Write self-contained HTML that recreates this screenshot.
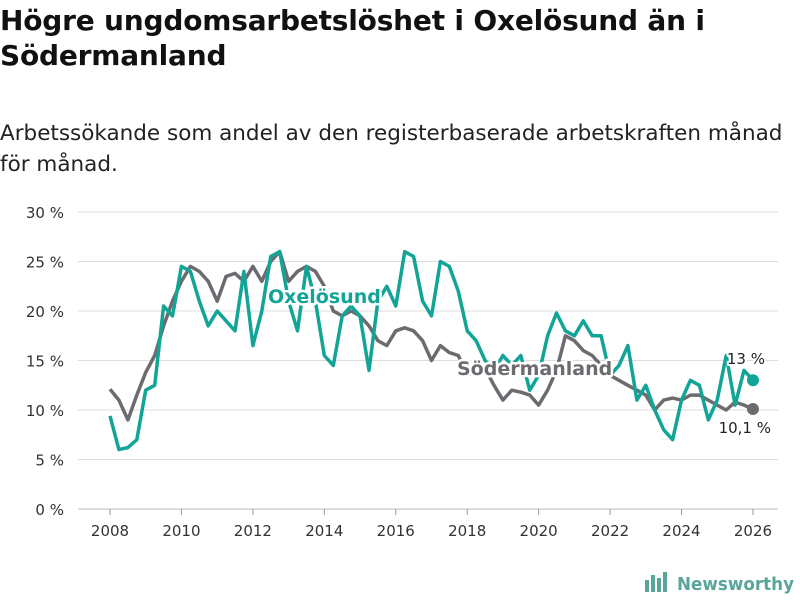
<!DOCTYPE html>
<html><head><meta charset="utf-8"><style>
body{margin:0;background:#fff;font-family:"Liberation Sans","DejaVu Sans",sans-serif;}
#wrap{position:relative;width:800px;height:600px;overflow:hidden}
h1{position:absolute;left:0;top:3px;margin:0;font-size:28px;line-height:35px;font-weight:bold;color:#111;font-family:"DejaVu Sans",sans-serif;letter-spacing:-0.2px}
.sub{position:absolute;left:0;top:118px;font-size:21.5px;line-height:31px;color:#222;font-family:"DejaVu Sans",sans-serif}
svg{position:absolute;left:0;top:0}
</style></head><body>
<div id="wrap">
<h1>Högre ungdomsarbetslöshet i Oxelösund än i<br>Södermanland</h1>
<div class="sub">Arbetssökande som andel av den registerbaserade arbetskraften månad<br>för månad.</div>
<svg id="chart" width="800" height="600"></svg>
</div>
<script>
const yTicks=[0,5,10,15,20,25,30];
const yTickLabels=["0 %","5 %","10 %","15 %","20 %","25 %","30 %"];
const xTicks=[2008,2010,2012,2014,2016,2018,2020,2022,2024,2026];
const startYear=2008;
const soder=[12.1,11,9,11.5,13.8,15.5,18.5,21,23,24.5,24,23,21,23.5,23.8,23,24.5,23,25,26,23,24,24.5,24,22.5,20,19.5,20,19.5,18.5,17,16.5,18,18.3,18,17,15,16.5,15.8,15.5,13.5,14,14.2,12.5,11,12,11.8,11.5,10.5,12,14,17.5,17,16,15.5,14.5,13.5,13,12.5,12,11.5,10,11,11.2,11,11.5,11.5,11,10.5,10,10.8,10.5,10.1];
const oxel=[9.4,6,6.2,7,12,12.5,20.5,19.5,24.5,24,21,18.5,20,19,18,24,16.5,20,25.5,26,21,18,24.5,21,15.5,14.5,19.5,20.5,19.5,14,21,22.5,20.5,26,25.5,21,19.5,25,24.5,22,18,17,15,14,15.5,14.5,15.5,12,13.5,17.5,19.8,18,17.5,19,17.5,17.5,13.5,14.5,16.5,11,12.5,10,8,7,11,13,12.5,9,11,15.5,10.5,14,13];
const ns="http://www.w3.org/2000/svg";
const svg=document.getElementById('chart');
const x=t=>110+(t-2008)*35.72;
const y=v=>509-v*9.9;
function mk(tag,attrs){const e=document.createElementNS(ns,tag);for(const k in attrs)e.setAttribute(k,attrs[k]);svg.appendChild(e);return e;}
yTicks.forEach((v,i)=>{
 const l=mk('line',{x1:78,x2:778,y1:y(v),y2:y(v),stroke:v===0?'#bbb':'#ddd','stroke-width':1});
 
 
 const t=mk('text',{x:64,y:y(v)+6,'text-anchor':'end','font-size':15,fill:'#333','font-family':'DejaVu Sans,sans-serif'});
 t.textContent=yTickLabels[i];
 
 
});
xTicks.forEach(v=>{
 const l=mk('line',{x1:x(v),x2:x(v),y1:509,y2:515,stroke:'#999'});
 
 
 const t=mk('text',{x:x(v),y:536,'text-anchor':'middle','font-size':15,fill:'#333','font-family':'DejaVu Sans,sans-serif'});
 t.textContent=v;
 
 
});
function series(arr,color,name){
 const d=arr.map((v,i)=>(i?'L':'M')+x(startYear+i*0.25).toFixed(1)+','+y(v).toFixed(1)).join('');
 const p=mk('path',{d:d,fill:'none',stroke:color,'stroke-width':3.5,'stroke-linejoin':'round'});
 
 
 const last=arr.length-1;
 const c=mk('circle',{cx:x(startYear+last*0.25),cy:y(arr[last]),r:6,fill:color});
 
 
}
series(soder,'#6d6a70','sodermanland');
series(oxel,'#12a597','oxelosund');
function label(txt,xx,yy,color,name,bold,anchor){
 const t=mk('text',{x:xx,y:yy,'font-size':bold?19:15,'font-weight':bold?'bold':'normal',fill:color,stroke:'#fff','stroke-width':bold?5:4,'paint-order':'stroke','stroke-linejoin':'round','font-family':'DejaVu Sans,sans-serif','text-anchor':anchor||'start'});
 t.textContent=txt;
 
 
}
label('Oxelösund',268,303,'#12a597','oxelosund-label',true);
label('Södermanland',457,375,'#6d6a70','sodermanland-label',true);
label('13 %',765,364,'#222','oxelosund-end-value',false,'end');
label('10,1 %',771,433,'#222','sodermanland-end-value',false,'end');
const g=mk('g',{});


[[645,580,4,12],[651,575,4,17],[657,578,4,14],[663,572,4,20]].forEach(r=>{const e=document.createElementNS(ns,'rect');e.setAttribute('x',r[0]);e.setAttribute('y',r[1]);e.setAttribute('width',r[2]);e.setAttribute('height',r[3]);e.setAttribute('fill','#5aa59a');g.appendChild(e);});
const lt=mk('text',{x:677,y:590,'font-size':18,'font-weight':'bold',fill:'#5aa59a','font-family':'DejaVu Sans,sans-serif',textLength:117,lengthAdjust:'spacingAndGlyphs'});
lt.textContent='Newsworthy';


</script>
</body></html>
